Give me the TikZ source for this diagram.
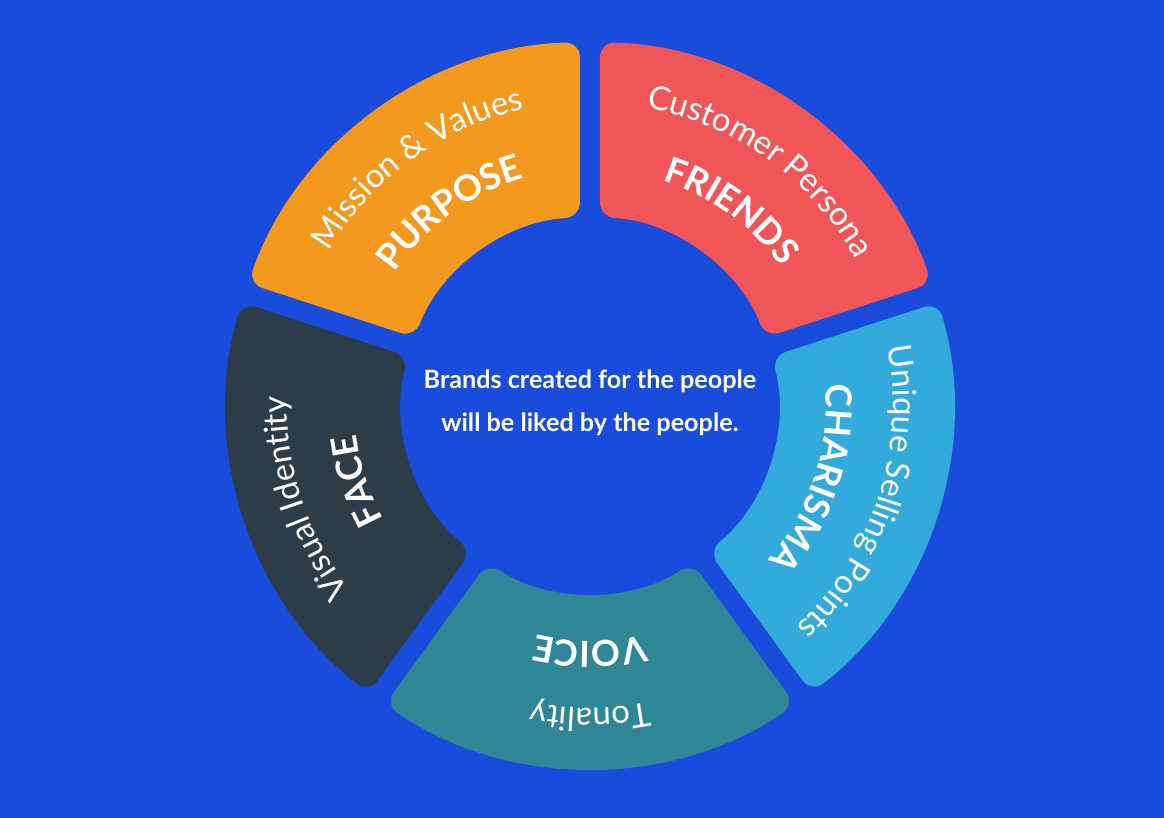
\documentclass[tikz,border=0pt]{standalone}
\usepackage{fontspec}
\setmainfont{Lato}
\usepackage{xcolor}
\usepackage{tikz}
\usetikzlibrary{calc,decorations.text}
\definecolor{bgblue}{HTML}{194BDC}
\definecolor{segorange}{HTML}{F2991E}
\definecolor{segred}{HTML}{F05658}
\definecolor{segcyan}{HTML}{32AADC}
\definecolor{segteal}{HTML}{2E8697}
\definecolor{segslate}{HTML}{2C3C48}
\newcommand{\rin}{188}
\newcommand{\rout}{363}
\newcommand{\lightfont}{\fontsize{16.5}{18}\selectfont}
\newcommand{\heavyfont}{\fontsize{18}{20}\selectfont\bfseries}

\begin{document}
\begin{tikzpicture}[
  x=0.5pt, y=0.5pt,
  seg/.style={rounded corners=7.5pt},
  lighttxt/.style={decorate, decoration={text along path, text align=center,
                   text color=white, text={|\lightfont|#1}}},
  heavytxt/.style={decorate, decoration={text along path, text align=center,
                   text color=white, text={|\heavyfont|#1}}},
  slogan/.style={font=\fontsize{12.6}{21.5}\selectfont\bfseries, text=white,
                 align=center}
]
% ---- Background ---------------------------------------------------------
\fill[bgblue] (-590,-413) rectangle (574,405);
\useasboundingbox (-590,-413) rectangle (574,405);

% ---- Ring segments ------------------------------------------------------
\foreach \a/\col in {162/segorange, 90/segred, 18/segcyan, -54/segteal, -126/segslate}
  \fill[seg, \col] ($({\a-72+3.05}:\rin)!.5!({\a-72+1.58}:\rout)$)
    -- ({\a-72+1.58}:\rout)
    arc[start angle=\a-72+1.58, end angle=\a-1.58, radius=\rout]
    -- ({\a-3.05}:\rin)
    arc[start angle=\a-3.05, end angle=\a-72+3.05, radius=\rin] -- cycle;

% ---- Labels along the ring ----------------------------------------------
\path[lighttxt={Mission {\&} Values}] (166:303) arc[start angle=166, end angle=86, radius=303];
\path[heavytxt={PURPOSE}] (166:236) arc[start angle=166, end angle=86, radius=236];
\path[lighttxt={Customer Persona}] (94:303) arc[start angle=94, end angle=14, radius=303];
\path[heavytxt={FRIENDS}] (94:236) arc[start angle=94, end angle=14, radius=236];
\path[lighttxt={Unique Selling Points}] (22:303) arc[start angle=22, end angle=-58, radius=303];
\path[heavytxt={CHARISMA}] (22:236) arc[start angle=22, end angle=-58, radius=236];
\path[lighttxt={Tonality}] (-50:303) arc[start angle=-50, end angle=-130, radius=303];
\path[heavytxt={VOICE}] (-50:236) arc[start angle=-50, end angle=-130, radius=236];
\path[lighttxt={Visual Identity}] (-122:303) arc[start angle=-122, end angle=-202, radius=303];
\path[heavytxt={FACE}] (-122:236) arc[start angle=-122, end angle=-202, radius=236];

% ---- Centre -------------------------------------------------------------
\node[slogan] (motto) at (0,2) {Brands created for the people\\will be liked by the people.};
\end{tikzpicture}
\end{document}
